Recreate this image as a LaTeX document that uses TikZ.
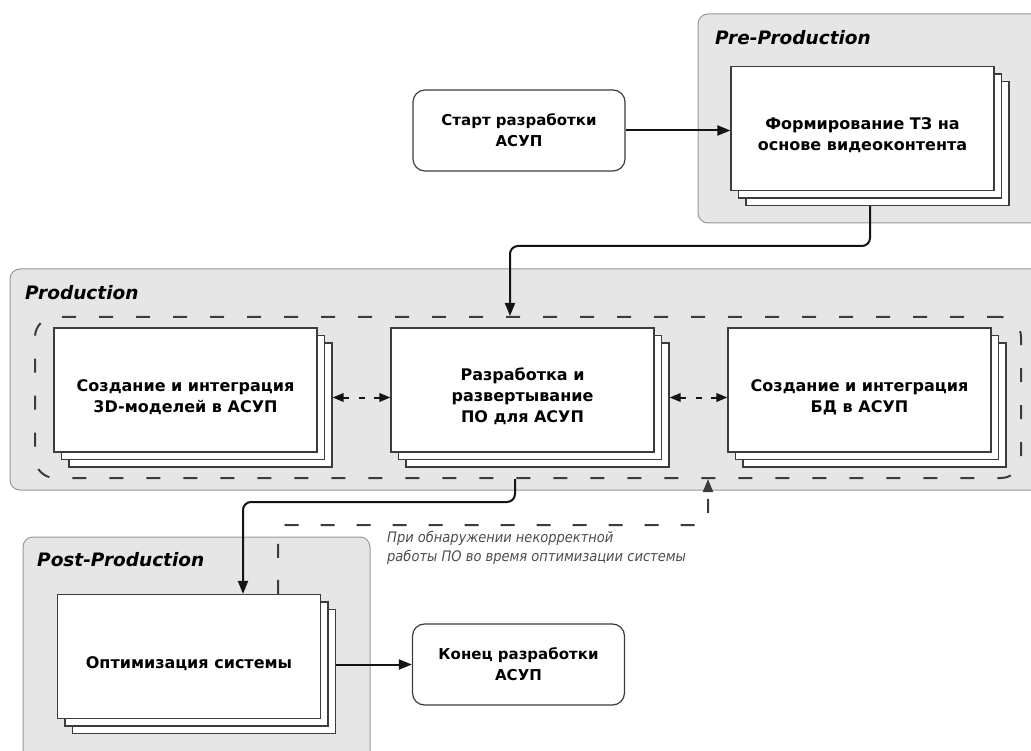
\documentclass[tikz,border=0pt]{standalone}
\usepackage{fontspec}
\setmainfont{DejaVu Sans}
\newfontfamily\notefont[FakeStretch=0.9]{DejaVu Sans}
\usetikzlibrary{arrows.meta,shadows,calc}

\definecolor{grpfill}{HTML}{E6E6E6}
\definecolor{grpline}{HTML}{999999}
\definecolor{docline}{HTML}{3C3C3C}
\definecolor{notecol}{HTML}{4D4D4D}
\definecolor{flowcol}{HTML}{141414}

% text of a stacked document, centred on the whole stack
\newcommand\doctext[1]{\raisebox{-7.5pt}[\height][\depth]{\begin{tabular}{@{}c@{}}#1\end{tabular}}}

\begin{document}
\begin{tikzpicture}[x=1pt,y=-1pt,
  group/.style={fill=grpfill, draw=grpline, line width=1pt, rounded corners=10pt},
  grouptitle/.style={font=\fontsize{18.5}{22}\selectfont\bfseries\itshape, anchor=west, inner sep=0pt},
  terminal/.style={draw=docline, fill=white, line width=1.2pt, rounded corners=12pt,
    minimum width=212pt, minimum height=81pt, align=center, inner sep=0pt,
    font=\fontsize{15}{21}\selectfont\bfseries},
  docshadow/.style={
    general shadow={shadow xshift=15pt, shadow yshift=-15pt, fill=white, draw=docline, line width=1.2pt},
    general shadow={shadow xshift=7.5pt, shadow yshift=-7.5pt, fill=white, draw=docline, line width=1.2pt}},
  doc/.style={docshadow, draw=docline, fill=white, line width=1.2pt,
    minimum width=263pt, minimum height=124pt, inner sep=0pt,
    font=\fontsize{16}{21}\selectfont\bfseries},
  core/.style={draw=docline, line width=2pt, dash pattern=on 14pt off 23pt,
    rounded corners=20pt, minimum width=986pt, minimum height=161pt, inner sep=0pt},
  flow/.style={draw=flowcol, line width=2pt, rounded corners=8pt,
    -{Triangle[length=13pt,width=10pt]}},
  feedback/.style={draw=docline, line width=2pt, rounded corners=8pt,
    dash pattern=on 14pt off 22pt, -{Triangle[length=13pt,width=10pt]}},
  bidir/.style={draw=flowcol, line width=2pt, dash pattern=on 6pt off 9.5pt,
    {Triangle[length=11pt,width=8.5pt]}-{Triangle[length=11pt,width=8.5pt]}},
  note/.style={font=\notefont\itshape\fontsize{14.5}{19}\selectfont, text=notecol,
    align=left, anchor=north west, inner sep=0pt}
]
\useasboundingbox (0,0) rectangle (1031,751);

% phase groups
\draw[group] (698,14) rectangle (1045,223);
\draw[group] (10,269) rectangle (1045,490);
\draw[group] (23,537) rectangle (370,765);
\node[grouptitle] (tpre)  at (715,38)  {Pre-Production};
\node[grouptitle] (tprod) at (25,293)  {Production};
\node[grouptitle] (tpost) at (37,560)  {Post-Production};

% dashed frame around the production work
\node[core] (core) at (528,397.5) {};

% start and end
\node[terminal] (start) at (519,130.5) {Старт разработки\\АСУП};
\node[terminal] (end)   at (518.5,664.5) {Конец разработки\\АСУП};

% stacked work packages
\node[doc] (tz)   at (862.5,128.5) {\doctext{Формирование ТЗ на\\основе видеоконтента}};
\node[doc] (a)    at (185.5,390)   {\doctext{Создание и интеграция\\3D-моделей в АСУП}};
\node[doc] (b)    at (522.5,390)   {\doctext{Разработка и\\развертывание\\ПО для АСУП}};
\node[doc] (c)    at (859.5,390)   {\doctext{Создание и интеграция\\БД в АСУП}};
\node[doc] (post) at (189,656.5)   {\doctext{Оптимизация системы}};

% bend points of the routed connectors
\coordinate (j1) at (700,246);
\coordinate (j2) at (400,502);
\coordinate (j3) at (500,525);

% main flow
\draw[flow] (start.east) -- (start.east -| tz.west);
\draw[flow] ([xshift=7.5pt,yshift=-15pt]tz.south) |- (j1) -| ([xshift=-12.5pt]b.north |- core.north);
\draw[flow] ([xshift=-7.5pt]b.south |- core.south) |- (j2) -| ([xshift=54pt]post.north);
\draw[flow] ([xshift=15pt]post.east |- end.west) -- (end.west);

% exchange between the production tasks
\draw[bidir] ([xshift=15pt,yshift=-7.5pt]a.east) -- ([yshift=-7.5pt]b.west);
\draw[bidir] ([xshift=15pt,yshift=-7.5pt]b.east) -- ([yshift=-7.5pt]c.west);

% return path back to production
\draw[feedback] ([xshift=89pt]post.north) |- (j3) -| ([xshift=185.5pt]b.south |- core.south);
\node[note] (fbnote) at (387,531) {При обнаружении некорректной\\работы ПО во время оптимизации системы};
\end{tikzpicture}
\end{document}
